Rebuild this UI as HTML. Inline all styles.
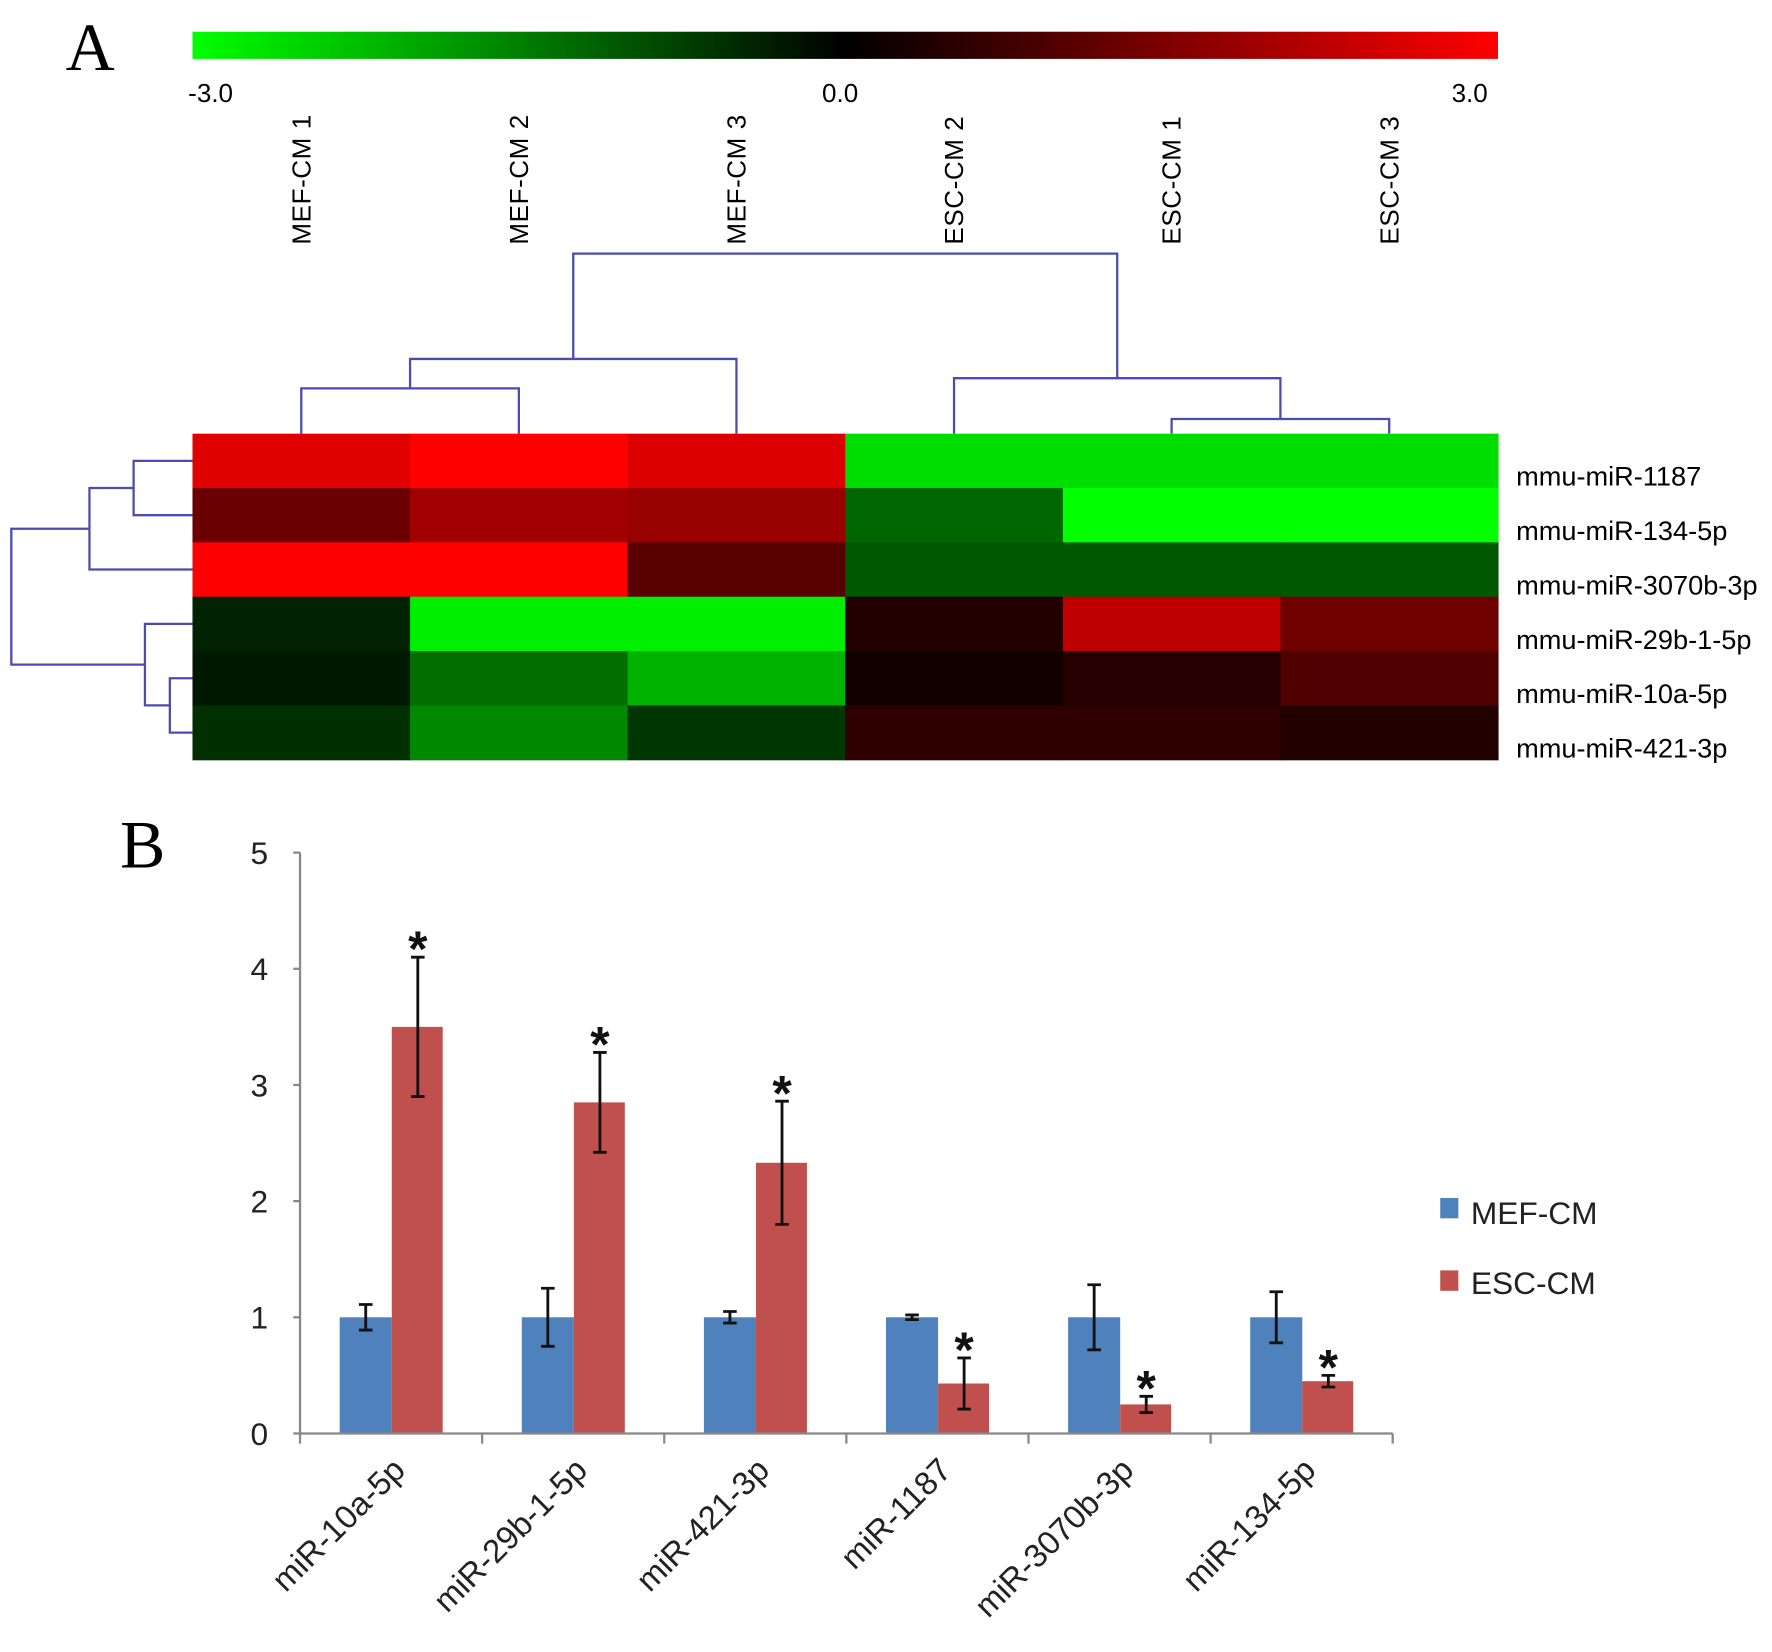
<!DOCTYPE html>
<html><head><meta charset="utf-8"><style>
html,body{margin:0;padding:0;background:#fff;}
svg{display:block;}
text{font-family:"Liberation Sans",sans-serif;}
</style></head><body>
<svg id="fig" width="1772" height="1652" viewBox="0 0 1565 1459" xmlns="http://www.w3.org/2000/svg">
<defs>
<linearGradient id="cbar" x1="0" x2="1" y1="0" y2="0">
<stop offset="0" stop-color="#00ff00"/><stop offset="0.5" stop-color="#000000"/><stop offset="1" stop-color="#ff0000"/>
</linearGradient>
</defs>
<text x="58" y="62" font-size="60" style="font-family:'Liberation Serif',serif">A</text>
<text x="106" y="766" font-size="60" style="font-family:'Liberation Serif',serif">B</text>
<rect x="170" y="28" width="1153" height="24" fill="url(#cbar)"/>
<text x="186" y="90" font-size="23" text-anchor="middle">-3.0</text>
<text x="742" y="90" font-size="23" text-anchor="middle">0.0</text>
<text x="1298" y="90" font-size="23" text-anchor="middle">3.0</text>
<g id="heat"></g>
<g id="bars"></g>
</svg>
<script>
const NS='http://www.w3.org/2000/svg';
const samples=['MEF-CM 1','MEF-CM 2','MEF-CM 3','ESC-CM 2','ESC-CM 1','ESC-CM 3'];
const genes=['mmu-miR-1187','mmu-miR-134-5p','mmu-miR-3070b-3p','mmu-miR-29b-1-5p','mmu-miR-10a-5p','mmu-miR-421-3p'];
const heatRow1187=[2.65,3.0,2.6,-2.6,-2.6,-2.6];
const heatRow134=[1.25,1.9,1.8,-1.2,-3.0,-3.0];
const heatRow3070=[3.0,3.0,1.05,-1.05,-1.05,-1.05];
const heatRow29b=[-0.4,-2.8,-2.8,0.4,2.25,1.3];
const heatRow10a=[-0.3,-1.3,-2.1,0.2,0.45,0.95];
const heatRow421=[-0.55,-1.6,-0.65,0.55,0.55,0.4];
const heatValues=[heatRow1187,heatRow134,heatRow3070,heatRow29b,heatRow10a,heatRow421];

const categories=['miR-10a-5p','miR-29b-1-5p','miR-421-3p','miR-1187','miR-3070b-3p','miR-134-5p'];
const mefValues=[1,1,1,1,1,1];
const mefErrors=[0.11,0.25,0.05,0.02,0.28,0.22];
const escValues=[3.5,2.85,2.33,0.43,0.25,0.45];
const escErrors=[0.6,0.43,0.53,0.22,0.07,0.05];
const yTicks=[0,1,2,3,4,5];

function mk(tag,attrs,parent,txt){const e=document.createElementNS(NS,tag);for(const k in attrs)e.setAttribute(k,attrs[k]);if(txt!==undefined)e.textContent=txt;parent.appendChild(e);return e;}
function col(v){const t=Math.max(-1,Math.min(1,v/3));const c=Math.round(Math.abs(t)*255);return t>=0?`rgb(${c},0,0)`:`rgb(0,${c},0)`;}

const H=document.getElementById('heat');
const hx0=170,hy0=383,cw=1153/6,ch=48;
const hx=i=>hx0+i*cw, hy=j=>hy0+j*ch;
heatValues.forEach((row,j)=>row.forEach((v,i)=>{
  const r=mk('rect',{x:hx(i),y:hy(j),width:cw+0.5,height:ch+0.5,fill:col(v)},H);
  
  
}));
samples.forEach((s,i)=>{
  const cx=hx(i)+cw/2+8;
  const t=mk('text',{x:0,y:0,'font-size':23,'text-anchor':'start','letter-spacing':'0.5',transform:`translate(${cx},216) rotate(-90)`},H,s);
  
  
});
genes.forEach((g,j)=>{
  const t=mk('text',{x:1339,y:hy(j)+ch/2+22,'font-size':24},H,g);
  
  
});
const dcol='#4b4bb0';
const cc=i=>hx(i)+cw/2;
function dPath(d,name){const p=mk('path',{d:d,fill:'none',stroke:dcol,'stroke-width':2},H);}
{
 const a=cc(0),b=cc(1);
 const n1=(a+b)/2; dPath(`M${a},383V343H${b}V383`,'column-dendrogram');
 const c3=cc(2); const n2=(n1+c3)/2; dPath(`M${n1},343V317H${c3}V383`,'column-dendrogram');
 const e1=cc(4),e3=cc(5); const n3=(e1+e3)/2; dPath(`M${e1},383V370H${e3}V383`,'column-dendrogram');
 const e2=cc(3); const n4=(e2+n3)/2; dPath(`M${e2},383V334H${n3}V370`,'column-dendrogram');
 dPath(`M${n2},317V224H${n4}V334`,'column-dendrogram');
}
{
 const rc=j=>hy(j)+ch/2;
 const r1=(rc(0)+rc(1))/2; dPath(`M170,${rc(0)}H118V${rc(1)}H170`,'row-dendrogram');
 const r2=(r1+rc(2))/2; dPath(`M118,${r1}H79V${rc(2)}H170`,'row-dendrogram');
 const r3=(rc(4)+rc(5))/2; dPath(`M170,${rc(4)}H150V${rc(5)}H170`,'row-dendrogram');
 const r4=(rc(3)+r3)/2; dPath(`M170,${rc(3)}H128V${r3}H150`,'row-dendrogram');
 dPath(`M79,${r2}H10V${r4}H128`,'row-dendrogram');
}

const B=document.getElementById('bars');
const ax0=265,ax1=1230,ay0=1266,ay5=753;
const yS=v=>ay0-(ay0-ay5)*v/5;
const gw=(ax1-ax0)/categories.length;
const gx=i=>ax0+i*gw;
const bw=46;
yTicks.forEach(t=>{
  const l=mk('line',{x1:ax0-6,x2:ax0,y1:yS(t),y2:yS(t),stroke:'#888','stroke-width':2},B);
  
  const tx=mk('text',{x:229,y:yS(t)+10,'font-size':28,'text-anchor':'middle',fill:'#222'},B,String(t));
  
});
const yax=mk('line',{x1:ax0,x2:ax0,y1:ay5,y2:ay0,stroke:'#888','stroke-width':2},B);

function err(x,v,e){
  const g=mk('path',{d:`M${x},${yS(v+e)}V${yS(Math.max(0,v-e))}M${x-6},${yS(v+e)}H${x+6}M${x-6},${yS(Math.max(0,v-e))}H${x+6}`,stroke:'#111','stroke-width':2.5,fill:'none'},B);
  
}
categories.forEach((c,i)=>{
  const x1=gx(i)+35,x2=x1+bw;
  const m=mk('rect',{x:x1,y:yS(mefValues[i]),width:bw,height:ay0-yS(mefValues[i]),fill:'#4f81bd'},B);
  
  const r=mk('rect',{x:x2,y:yS(escValues[i]),width:bw-1,height:ay0-yS(escValues[i]),fill:'#c0504d'},B);
  
  err(x1+bw/2,mefValues[i],mefErrors[i]);
  err(x2+bw/2,escValues[i],escErrors[i]);
  const s=mk('text',{x:x2+bw/2,y:yS(escValues[i]+escErrors[i])+8,'font-size':44,'text-anchor':'middle','font-weight':'bold',fill:'#111'},B,'*');
  
  const lab=mk('text',{x:0,y:0,'font-size':29,'text-anchor':'end',fill:'#222',transform:`translate(${gx(i)+gw/2+14},${1300}) rotate(-45)`},B,c);
  
});
for(let i=0;i<=categories.length;i++){
  const t=mk('line',{x1:gx(i),x2:gx(i),y1:ay0,y2:ay0+9,stroke:'#888','stroke-width':2},B);
  
}
const xax=mk('line',{x1:ax0,x2:ax1,y1:ay0,y2:ay0,stroke:'#888','stroke-width':2},B);

const lg=mk('g',{},B);

const l1=mk('rect',{x:1272,y:1058,width:16,height:18,fill:'#4f81bd'},lg);

const lt1=mk('text',{x:1299,y:1081,'font-size':28,fill:'#222'},lg,'MEF-CM');

const l2=mk('rect',{x:1272,y:1122,width:16,height:18,fill:'#c0504d'},lg);

const lt2=mk('text',{x:1299,y:1143,'font-size':28,fill:'#222'},lg,'ESC-CM');

</script>
</body></html>
